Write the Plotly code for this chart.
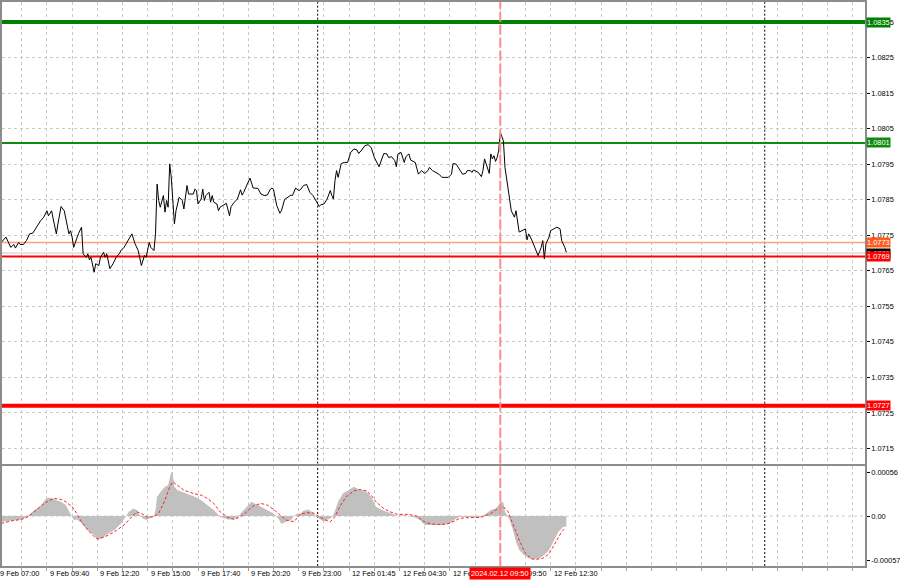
import plotly.graph_objects as go

# ---------------- data (bar index = 5-minute bars since 9 Feb 07:00) ----------------
price_bar = [3, 6, 9, 11, 12, 14, 15, 17, 19, 21, 23, 26, 28, 30, 32, 33, 35, 36, 38, 39, 41, 43, 45, 46, 47, 48, 49, 50,
             52, 54, 55, 57, 58, 59, 60, 62, 63, 65, 66, 68, 69, 70, 72, 74, 76, 78, 79, 81, 83, 86, 87, 88, 90, 92, 94, 95,
             97, 98, 100, 101, 102, 103, 104, 106, 107, 108, 109, 110, 111, 113, 114, 116, 118, 119, 121, 122, 125, 126,
             127, 128, 130, 131, 132, 133, 135, 136, 137, 138, 140, 141, 142, 145, 146, 148, 149, 151, 153, 155, 156, 157,
             159, 161, 163, 166, 168, 170, 172, 174, 175, 176, 178, 180, 181, 183, 187, 188, 190, 192,
             193, 195, 197, 198, 199, 201, 203, 205, 206, 208, 210, 212, 213, 214, 215, 216, 217, 218, 219, 221, 223, 225,
             227, 229, 230, 232, 234, 236, 238, 240, 243, 246, 248, 249, 251, 253, 254, 255, 257, 259, 260, 262, 263, 266,
             268, 270, 272, 274, 275, 277, 279, 281, 283, 287, 289, 290, 292, 294, 296, 298, 299, 301, 302, 303, 306, 308,
             309, 310, 311, 313, 314, 315, 316, 317, 318, 319, 320, 322, 323, 325, 327, 329, 330, 332, 334, 336, 337, 338,
             340, 342, 344, 346, 347, 348, 349, 351, 352, 354, 356, 358, 359, 361, 362]
price_val = [1.07730, 1.07745, 1.07716, 1.07724, 1.07714, 1.07730, 1.07724, 1.07724, 1.07735, 1.07754, 1.07756, 1.07777,
             1.07791, 1.07801, 1.07819, 1.07805, 1.07819, 1.07796, 1.07754, 1.07782, 1.07831, 1.07819, 1.07768, 1.07754,
             1.07763, 1.07745, 1.07716, 1.07730, 1.07754, 1.07773, 1.07698, 1.07688, 1.07698, 1.07681, 1.07688, 1.07646,
             1.07670, 1.07665, 1.07688, 1.07702, 1.07688, 1.07698, 1.07656, 1.07670, 1.07688, 1.07698, 1.07707, 1.07716,
             1.07730, 1.07754, 1.07740, 1.07726, 1.07707, 1.07665, 1.07693, 1.07688, 1.07730, 1.07716, 1.07707, 1.07754,
             1.07894, 1.07848, 1.07829, 1.07862, 1.07815, 1.07848, 1.07829, 1.07951, 1.07913, 1.07782, 1.07819, 1.07857,
             1.07848, 1.07824, 1.07890, 1.07866, 1.07866, 1.07880, 1.07876, 1.07838, 1.07852, 1.07880, 1.07848, 1.07862,
             1.07871, 1.07843, 1.07862, 1.07843, 1.07838, 1.07819, 1.07829, 1.07838, 1.07840, 1.07805, 1.07831, 1.07843,
             1.07852, 1.07878, 1.07863, 1.07871, 1.07890, 1.07911, 1.07883, 1.07882, 1.07866, 1.07862, 1.07863, 1.07880,
             1.07883, 1.07878, 1.07834, 1.07812, 1.07819, 1.07851, 1.07863, 1.07862, 1.07883, 1.07876,
             1.07878, 1.07890, 1.07893, 1.07883, 1.07871, 1.07862, 1.07848, 1.07831, 1.07836, 1.07838, 1.07852, 1.07876,
             1.07862, 1.07852, 1.07904, 1.07932, 1.07913, 1.07936, 1.07952, 1.07955, 1.07955, 1.07983, 1.07993, 1.07990,
             1.07980, 1.07990, 1.08002, 1.08005, 1.07997, 1.07969, 1.07943, 1.07980, 1.07979, 1.07969, 1.07971, 1.07960,
             1.07943, 1.07979, 1.07983, 1.07955, 1.07971, 1.07979, 1.07962, 1.07955, 1.07922, 1.07932, 1.07924, 1.07932,
             1.07941, 1.07932, 1.07927, 1.07922, 1.07913, 1.07913, 1.07922, 1.07952, 1.07950, 1.07936, 1.07922, 1.07924,
             1.07932, 1.07932, 1.07927, 1.07934, 1.07927, 1.07915, 1.07932, 1.07965, 1.07950, 1.07924, 1.07979, 1.07965,
             1.07974, 1.07958, 1.07969, 1.07988, 1.08040, 1.08016, 1.07941, 1.07885, 1.07819, 1.07801, 1.07819, 1.07759,
             1.07763, 1.07768, 1.07737, 1.07754, 1.07737, 1.07716, 1.07693, 1.07716, 1.07735, 1.07684, 1.07726, 1.07745,
             1.07763, 1.07768, 1.07773, 1.07768, 1.07735, 1.07716, 1.07702]

hist_bar = [3, 10, 16, 20, 22, 24, 28, 31, 33, 36, 38, 41, 44, 47, 48, 49, 51, 53, 56, 59, 62, 64, 67, 71, 75, 79, 82, 84,
            87, 89, 91, 93, 95, 97, 100, 101, 102, 105, 107, 109, 110, 111, 112, 113, 115, 118, 121, 126, 130, 134, 138,
            141, 143, 147, 150, 153, 155, 159, 162, 164, 168, 172, 176, 179, 181, 184, 187, 189, 191, 193, 195, 198, 201,
            203, 206, 208, 210, 212, 214, 215, 217, 220, 224, 227, 229, 232, 235, 238, 241, 245, 248, 252, 255, 258, 262,
            266, 269, 272, 275, 279, 283, 288, 291, 294, 298, 302, 307, 311, 314, 317, 319, 320, 322, 323, 326, 328, 330,
            332, 335, 338, 341, 345, 348, 351, 354, 357, 360, 362]
hist_val = [-0.000072, -0.000059, -0.000042, 0.0, 0.000034, 0.000076, 0.000127, 0.000212, 0.000237, 0.000224, 0.000203,
            0.000182, 0.000140, 0.000034, 0.0, -0.000051, -0.000042, -0.000072, -0.000135, -0.000199, -0.000241, -0.000305,
            -0.000283, -0.000220, -0.000178, -0.000093, -0.000008, 0.000055, 0.000097, 0.000076, 0.000013, -0.000030,
            -0.000051, -0.000030, 0.0, 0.000076, 0.000245, 0.000330, 0.000372, 0.000393, 0.000478, 0.000563, 0.000520,
            0.000372, 0.000330, 0.000309, 0.000288, 0.000245, 0.000203, 0.000140, 0.000076, 0.000013, -0.000017, -0.000042,
            -0.000042, -0.000017, 0.000034, 0.000118, 0.000182, 0.000161, 0.000118, 0.000085, 0.000034, -0.000030,
            -0.000102, -0.000072, -0.000051, 0.0, 0.000034, 0.000034, 0.000068, 0.000085, 0.000042, -0.000008, -0.000051,
            -0.000072, -0.000042, -0.000030, 0.000013, 0.000076, 0.000182, 0.000288, 0.000330, 0.000372, 0.000351,
            0.000330, 0.000309, 0.000245, 0.000118, 0.000076, 0.000055, 0.000025, 0.0, 0.000013, 0.0, -0.000017, -0.000051,
            -0.000114, -0.000114, -0.000114, -0.000114, -0.000093, -0.000042, -0.000008, -0.000008, -0.000008, -0.000017,
            0.000034, 0.000076, 0.000097, 0.000140, 0.000203, 0.000169, 0.000055, -0.000051, -0.000178, -0.000326,
            -0.000431, -0.000495, -0.000537, -0.000550, -0.000537, -0.000495, -0.000431, -0.000305, -0.000199, -0.000135,
            -0.000135]

signal_bar = [3, 10, 16, 20, 24, 29, 33, 37, 41, 44, 48, 51, 54, 58, 62, 64, 69, 75, 81, 86, 89, 92, 96, 100, 103, 107,
              110, 112, 115, 119, 125, 130, 134, 138, 142, 147, 151, 155, 159, 163, 168, 172, 176, 180, 184, 189,
              193, 197, 201, 205, 208, 212, 215, 218, 222, 227, 231, 235, 238, 241, 246, 250, 254, 258, 262, 267, 270,
              273, 277, 281, 286, 290, 294, 298, 302, 307, 310, 314, 317, 320, 322, 325, 328, 332, 336, 340, 343, 347,
              350, 353, 356, 359, 361]
signal_val = [-0.000093, -0.000059, -0.000042, -0.000008, 0.000055, 0.000140, 0.000195, 0.000224, 0.000212, 0.000182,
              0.000118, 0.000034, -0.000072, -0.000178, -0.000262, -0.000292, -0.000262, -0.000199, -0.000114, -0.000008,
              0.000055, 0.000034, -0.000017, -0.000008, 0.000034, 0.000203, 0.000372, 0.000436, 0.000393, 0.000330,
              0.000288, 0.000266, 0.000224, 0.000161, 0.000055, -0.000017, -0.000042, -0.000008, 0.000055, 0.000127,
              0.000161, 0.000140, 0.000085, 0.000013, -0.000051, -0.000072,
              0.000025, 0.000042, 0.000042, -0.000008, -0.000042, -0.000072, -0.000008, 0.000118, 0.000245, 0.000321,
              0.000338, 0.000321, 0.000266, 0.000182, 0.000097, 0.000055, 0.000025, 0.000021, 0.000021, 0.0, -0.000051,
              -0.000085, -0.000102, -0.000106, -0.000102, -0.000072, -0.000030, -0.000021, -0.000017, -0.000017, 0.0,
              0.000034, 0.000076, 0.000106, 0.000118, 0.000055, -0.000093, -0.000305, -0.000474, -0.000546, -0.000550,
              -0.000537, -0.000495, -0.000410, -0.000305, -0.000199, -0.000156]

# horizontal levels
level_values = [1.0835, 1.0801, 1.0773, 1.0769, 1.0727]
level_labels = ["1.0835", "1.0801", "1.0773", "1.0769", "1.0727"]
bid_value = 1.0770
bid_label = "1.0770"

# time axis labels (every 32 bars)
time_label_bars = [0, 32, 64, 96, 128, 160, 192, 224, 256, 288, 320, 352]
time_labels = ["9 Feb 07:00", "9 Feb 09:40", "9 Feb 12:20", "9 Feb 15:00", "9 Feb 17:40", "9 Feb 20:20",
               "9 Feb 23:00", "12 Feb 01:45", "12 Feb 04:30", "12 Feb 07:10", "12 Feb 09:50", "12 Feb 12:30"]
separator_bars = [204, 488]          # day separators
marker_bar = 320                     # 2024.02.12 09:50
marker_label = "2024.02.12 09:50"

osc_tick_vals = [0.00056, 0.0, -0.00057]
osc_tick_text = ["0.00056", "0.00", "-0.00057"]

# ---------------- styling ----------------
W, H = 900, 583
ML, MR, MT, MB = 0, 32, 1, 17
PH = H - MT - MB  # plot height in px
x_range = [3.47, 551.7]
y_range = [1.071073, 1.084065]
y2_range = [-0.000635, 0.000635]
main_dom = [(H - MB - 463.5) / PH, 1.0]
osc_dom = [0.0, (H - MB - 466) / PH]

FONT = "Liberation Sans, Arial, sans-serif"
FS = 7.4
GRID = "#c8c8c8"
AXLINE = "#8c8c8c"

level_colors = ["#008000", "#108a10", "#ffa07a", "#ff0000", "#ff0000"]
level_widths = [4, 2, 1.5, 2, 4]
label_bg = ["#008000", "#108a10", "#ff5a1e", "#ff0000", "#ff0000"]

fig = go.Figure()

fig.add_trace(go.Scatter(x=hist_bar, y=hist_val, xaxis="x2", yaxis="y2", mode="lines",
                         line=dict(width=0, color="#c0c0c0"), fill="tozeroy", fillcolor="#c0c0c0",
                         hoverinfo="skip", showlegend=False))
fig.add_trace(go.Scatter(x=signal_bar, y=signal_val, xaxis="x2", yaxis="y2", mode="lines",
                         line=dict(width=1, color="#ff2020", dash="3px,2px"), showlegend=False))

# level lines (as traces so they sit above the grid, below the price line)
fig.add_trace(go.Scatter(x=x_range, y=[bid_value, bid_value], mode="lines",
                         line=dict(color="#c8c8c8", width=1), hoverinfo="skip", showlegend=False))
for v, c, w in zip(level_values, level_colors, level_widths):
    fig.add_trace(go.Scatter(x=x_range, y=[v, v], mode="lines", line=dict(color=c, width=w),
                             hoverinfo="skip", showlegend=False))

fig.add_trace(go.Scatter(x=price_bar, y=price_val, mode="lines",
                         line=dict(width=1, color="#000000"), showlegend=False))

shapes = []
# separators
for b in separator_bars:
    shapes.append(dict(type="line", xref="x", yref="y", x0=b, x1=b, y0=y_range[0], y1=y_range[1],
                       line=dict(color="#000000", width=1, dash="2px,2px"), layer="below"))
    shapes.append(dict(type="line", xref="x2", yref="y2", x0=b, x1=b, y0=y2_range[0], y1=y2_range[1],
                       line=dict(color="#000000", width=1, dash="2px,2px"), layer="below"))
# zero line of oscillator
shapes.append(dict(type="line", xref="x2", yref="y2", x0=x_range[0], x1=x_range[1], y0=0, y1=0,
                   line=dict(color=GRID, width=1, dash="3px,3px"), layer="below"))
# marker line
shapes.append(dict(type="line", xref="x", yref="y", x0=marker_bar, x1=marker_bar, y0=y_range[0], y1=y_range[1],
                   line=dict(color="#ff8c8c", width=2, dash="10px,3px"), layer="above"))
shapes.append(dict(type="line", xref="x2", yref="y2", x0=marker_bar, x1=marker_bar, y0=y2_range[0], y1=y2_range[1],
                   line=dict(color="#ff8c8c", width=2, dash="10px,3px"), layer="above"))

annotations = []
# price labels on right scale
annotations.append(dict(xref="paper", yref="y", x=1, y=bid_value, xanchor="left", yanchor="middle", xshift=1,
                        text=bid_label, showarrow=False, bgcolor="#000000", borderpad=0,
                        font=dict(family=FONT, size=FS, color="#ffffff")))
for v, t, bg in zip(level_values, level_labels, label_bg):
    annotations.append(dict(xref="paper", yref="y", x=1, y=v, xanchor="left", yanchor="middle", xshift=1,
                            text=t, showarrow=False, bgcolor=bg, borderpad=0,
                            font=dict(family=FONT, size=FS, color="#ffffff")))

# time labels (left aligned at tick)
label_y = (H - MB - 574) / PH
for b, t in zip(time_label_bars, time_labels):
    px = (b - x_range[0]) / (x_range[1] - x_range[0])
    annotations.append(dict(xref="paper", yref="paper", x=px, y=label_y, xanchor="left", yanchor="middle",
                            xshift=1, text=t, showarrow=False,
                            font=dict(family=FONT, size=FS, color="#000000")))
# marker time box
mx = (marker_bar - x_range[0]) / (x_range[1] - x_range[0])
annotations.append(dict(xref="paper", yref="paper", x=mx, y=label_y, xanchor="center", yanchor="middle",
                        text=marker_label, showarrow=False, bgcolor="#ff0000", borderpad=1,
                        font=dict(family=FONT, size=FS, color="#ffffff")))

axis_common = dict(showline=True, mirror=True, linecolor=AXLINE, linewidth=1.5, zeroline=False)

fig.update_layout(
    width=W, height=H,
    margin=dict(l=ML, r=MR, t=MT, b=MB),
    paper_bgcolor="#ffffff", plot_bgcolor="#ffffff",
    showlegend=False,
    font=dict(family=FONT, size=FS, color="#000000"),
    xaxis=dict(domain=[0, 1], range=x_range, anchor="y", tick0=0, dtick=16, showticklabels=False,
               showgrid=True, gridcolor=GRID, griddash="3px,3px", gridwidth=1, ticks="", **axis_common),
    yaxis=dict(domain=main_dom, range=y_range, anchor="x", side="right", tick0=1.0715, dtick=0.001,
               tickformat=".4f", ticks="outside", ticklen=3, tickcolor="#000000",
               showgrid=True, gridcolor=GRID, griddash="3px,3px", gridwidth=1,
               tickfont=dict(family=FONT, size=FS, color="#000000"), **axis_common),
    xaxis2=dict(domain=[0, 1], range=x_range, anchor="y2", tick0=0, dtick=16, showticklabels=False,
                showgrid=True, gridcolor=GRID, griddash="3px,3px", gridwidth=1, ticks="outside", ticklen=3,
                tickcolor="#a0a0a0", **axis_common),
    yaxis2=dict(domain=osc_dom, range=y2_range, anchor="x2", side="right", tickvals=osc_tick_vals,
                ticktext=osc_tick_text, ticks="outside", ticklen=3, tickcolor="#000000", showgrid=False,
                tickfont=dict(family=FONT, size=FS, color="#000000"), **axis_common),
    shapes=shapes,
    annotations=annotations,
)

fig.write_html("out.html", config={"displayModeBar": False},
               post_script="document.body.style.margin='0';document.body.style.overflow='hidden';")
